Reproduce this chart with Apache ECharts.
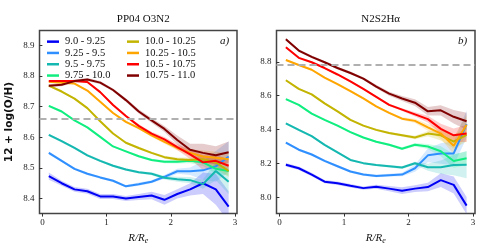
<!DOCTYPE html>
<html><head><meta charset="utf-8">
<script src="https://cdn.jsdelivr.net/npm/echarts@6/dist/echarts.min.js"></script>
<style>html,body{margin:0;padding:0;background:#fff}#c{width:500px;height:250px}</style>
</head><body><div id="c"></div>
<script>
// ---------- data ----------
const radius = [0.1,0.3,0.5,0.7,0.9,1.1,1.3,1.5,1.7,1.9,2.1,2.3,2.5,2.7,2.9];
const massBins = ['9.0 - 9.25','9.25 - 9.5','9.5 - 9.75','9.75 - 10.0','10.0 - 10.25','10.25 - 10.5','10.5 - 10.75','10.75 - 11.0'];
const panelTitles = ['PP04 O3N2','N2S2Hα'];
const panelTags = ['a)','b)'];
const xTicks = [0,1,2,3];
const yTicksO3N2 = [8.4,8.5,8.6,8.7,8.8,8.9];
const yTicksN2S2 = [8.0,8.2,8.4,8.6,8.8];
const refO3N2 = 8.66;
const refN2S2 = 8.775;

// PP04 O3N2 profiles
const o3n2_b1 = [8.473,8.450,8.430,8.424,8.407,8.407,8.400,8.405,8.410,8.396,8.415,8.430,8.450,8.430,8.374];
const o3n2_b2 = [8.549,8.523,8.497,8.481,8.469,8.458,8.440,8.447,8.455,8.471,8.489,8.489,8.492,8.505,8.537];
const o3n2_b3 = [8.608,8.587,8.565,8.541,8.523,8.507,8.495,8.486,8.481,8.468,8.463,8.460,8.447,8.490,8.455];
const o3n2_b4 = [8.702,8.684,8.655,8.632,8.601,8.570,8.554,8.538,8.526,8.520,8.520,8.523,8.518,8.497,8.490];
const o3n2_b5 = [8.768,8.749,8.726,8.695,8.652,8.612,8.582,8.565,8.549,8.535,8.528,8.526,8.528,8.518,8.490];
const o3n2_b6 = [8.781,8.778,8.775,8.752,8.716,8.679,8.650,8.630,8.606,8.585,8.565,8.549,8.537,8.533,8.528];
const o3n2_b7 = [8.783,8.783,8.783,8.780,8.747,8.705,8.669,8.637,8.612,8.593,8.568,8.544,8.518,8.523,8.507];
const o3n2_b8 = [8.768,8.771,8.783,8.788,8.778,8.754,8.721,8.684,8.655,8.627,8.591,8.559,8.549,8.541,8.551];
// PP04 O3N2 uncertainties (half width)
const o3n2_e1 = [0.012,0.008,0.008,0.008,0.008,0.008,0.008,0.010,0.012,0.016,0.015,0.020,0.035,0.050,0.050];
const o3n2_e2 = [0.005,0.004,0.004,0.004,0.004,0.004,0.004,0.005,0.005,0.006,0.008,0.012,0.030,0.050,0.050];
const o3n2_e3 = [0.004,0.004,0.004,0.004,0.004,0.004,0.004,0.004,0.005,0.006,0.008,0.010,0.015,0.030,0.040];
const o3n2_e4 = [0.004,0.004,0.003,0.003,0.003,0.003,0.003,0.004,0.004,0.005,0.006,0.008,0.012,0.015,0.015];
const o3n2_e5 = [0.004,0.004,0.003,0.003,0.003,0.003,0.003,0.004,0.004,0.005,0.006,0.008,0.012,0.020,0.020];
const o3n2_e6 = [0.004,0.004,0.003,0.003,0.003,0.003,0.004,0.004,0.005,0.006,0.008,0.012,0.020,0.020,0.020];
const o3n2_e7 = [0.004,0.004,0.003,0.003,0.003,0.004,0.004,0.005,0.006,0.008,0.010,0.015,0.025,0.020,0.020];
const o3n2_e8 = [0.005,0.005,0.005,0.005,0.005,0.005,0.006,0.007,0.008,0.010,0.015,0.020,0.030,0.030,0.035];

// N2S2Ha profiles
const n2s2_b1 = [8.194,8.173,8.136,8.094,8.085,8.070,8.056,8.064,8.053,8.041,8.053,8.062,8.103,8.075,7.953];
const n2s2_b2 = [8.324,8.282,8.254,8.216,8.185,8.154,8.136,8.128,8.132,8.136,8.173,8.249,8.260,8.260,8.433];
const n2s2_b3 = [8.437,8.399,8.362,8.311,8.267,8.222,8.203,8.192,8.185,8.177,8.202,8.179,8.179,8.192,8.194];
const n2s2_b4 = [8.580,8.546,8.495,8.458,8.424,8.386,8.354,8.329,8.311,8.288,8.311,8.301,8.273,8.216,8.232];
const n2s2_b5 = [8.691,8.640,8.608,8.555,8.508,8.458,8.424,8.399,8.380,8.367,8.354,8.377,8.367,8.330,8.370];
const n2s2_b6 = [8.810,8.781,8.753,8.706,8.668,8.627,8.584,8.537,8.499,8.465,8.452,8.414,8.377,8.305,8.429];
const n2s2_b7 = [8.885,8.823,8.797,8.763,8.725,8.684,8.640,8.593,8.546,8.518,8.490,8.462,8.405,8.367,8.377];
const n2s2_b8 = [8.932,8.866,8.829,8.797,8.763,8.734,8.701,8.654,8.612,8.584,8.559,8.508,8.514,8.476,8.450];
// N2S2Ha uncertainties (half width)
const n2s2_e1 = [0.010,0.010,0.010,0.010,0.010,0.010,0.010,0.012,0.015,0.020,0.020,0.025,0.040,0.050,0.050];
const n2s2_e2 = [0.008,0.007,0.007,0.007,0.007,0.007,0.007,0.008,0.008,0.010,0.020,0.040,0.060,0.070,0.080];
const n2s2_e3 = [0.006,0.006,0.006,0.006,0.006,0.006,0.006,0.006,0.007,0.008,0.010,0.020,0.040,0.060,0.080];
const n2s2_e4 = [0.006,0.006,0.006,0.006,0.006,0.006,0.006,0.006,0.007,0.008,0.010,0.015,0.030,0.040,0.040];
const n2s2_e5 = [0.006,0.006,0.006,0.006,0.006,0.006,0.006,0.006,0.007,0.008,0.010,0.015,0.030,0.040,0.040];
const n2s2_e6 = [0.006,0.006,0.006,0.006,0.006,0.006,0.006,0.006,0.007,0.008,0.012,0.020,0.030,0.050,0.060];
const n2s2_e7 = [0.006,0.006,0.006,0.006,0.006,0.006,0.006,0.006,0.007,0.008,0.012,0.020,0.030,0.040,0.050];
const n2s2_e8 = [0.008,0.008,0.008,0.008,0.008,0.008,0.008,0.010,0.012,0.015,0.020,0.025,0.030,0.040,0.050];

// ---------- styles ----------
const binColors = ['#0000f5','#2f8fff','#14b8b0','#10ee80','#c2b400','#ffa500','#ff0000','#800000'];
const serif = 'Liberation Serif';

const panels = [
  {vals:[o3n2_b1,o3n2_b2,o3n2_b3,o3n2_b4,o3n2_b5,o3n2_b6,o3n2_b7,o3n2_b8],
   errs:[o3n2_e1,o3n2_e2,o3n2_e3,o3n2_e4,o3n2_e5,o3n2_e6,o3n2_e7,o3n2_e8],
   ref:refO3N2, yTicks:yTicksO3N2, ymin:8.351, ymax:8.948},
  {vals:[n2s2_b1,n2s2_b2,n2s2_b3,n2s2_b4,n2s2_b5,n2s2_b6,n2s2_b7,n2s2_b8],
   errs:[n2s2_e1,n2s2_e2,n2s2_e3,n2s2_e4,n2s2_e5,n2s2_e6,n2s2_e7,n2s2_e8],
   ref:refN2S2, yTicks:yTicksN2S2, ymin:7.906, ymax:8.984}
];

const grids = [
  {left:39.5, top:30.5, width:197.5, height:191},
  {left:276.5, top:30.5, width:198.5, height:191}
];

function bandRender(color){
  return function(params, api){
    if (params.dataIndex !== 0) return null;
    const n = params.dataInsideLength !== undefined ? radius.length : radius.length;
    const up = [], lo = [];
    for (let i = 0; i < n; i++) {
      up.push(api.coord([api.value(0, i), api.value(2, i)]));
      lo.push(api.coord([api.value(0, i), api.value(1, i)]));
    }
    const pts = up.concat(lo.reverse());
    return {type:'polygon', shape:{points:pts}, style:{fill:color, opacity:0.2}, silent:true};
  };
}

const series = [];
panels.forEach((p, pi) => {
  p.vals.forEach((v, bi) => {
    const e = p.errs[bi];
    series.push({type:'custom', xAxisIndex:pi, yAxisIndex:pi, silent:true, z:1, clip:true,
      renderItem: bandRender(binColors[bi]),
      encode:{x:0, y:[1,2]},
      data: radius.map((r,i)=>[r, v[i]-e[i], v[i]+e[i]])});
  });
  series.push({type:'line', xAxisIndex:pi, yAxisIndex:pi, data:[], z:2,
    markLine:{silent:true, symbol:'none', label:{show:false},
      lineStyle:{color:'#b0b0b0', width:2, type:[7,4]},
      data:[{yAxis:p.ref}]}});
  p.vals.forEach((v, bi) => {
    series.push({type:'line', name:massBins[bi], xAxisIndex:pi, yAxisIndex:pi, symbol:'none', z:3,
      color:binColors[bi], lineStyle:{color:binColors[bi], width:2},
      data: radius.map((r,i)=>[r, v[i]])});
  });
});

const tickStyle = {show:true, inside:false, length:3, lineStyle:{color:'#333', width:1}};
const labelStyle = {fontFamily:serif, fontSize:9, color:'#222'};

const option = {
  animation:false,
  title: panelTitles.map((t,i)=>({text:t, left:grids[i].left+grids[i].width/2, top:9, textAlign:'center',
    textStyle:{fontFamily:serif, fontSize:11, fontWeight:'normal', color:'#111'}})),
  grid: grids.map(g=>Object.assign({show:true, borderColor:'#444', borderWidth:1.5, backgroundColor:'transparent'}, g)),
  xAxis: [0,1].map(i=>({type:'value', gridIndex:i, min:-0.045, max:3.03,
    axisLine:{show:false}, splitLine:{show:false},
    axisTick:Object.assign({customValues:xTicks}, tickStyle),
    axisLabel:Object.assign({customValues:xTicks, margin:5}, labelStyle),
    name:'{i|R/R}{s|e}', nameLocation:'middle', nameGap:14,
    nameTextStyle:{rich:{i:{fontFamily:serif, fontStyle:'italic', fontSize:11, color:'#111'},
      s:{fontFamily:serif, fontStyle:'italic', fontSize:8, color:'#111', verticalAlign:'bottom', padding:[6,0,0,0]}}}})),
  yAxis: panels.map((p,i)=>({type:'value', gridIndex:i, min:p.ymin, max:p.ymax,
    axisLine:{show:false}, splitLine:{show:false},
    axisTick:Object.assign({customValues:p.yTicks}, tickStyle),
    axisLabel:Object.assign({customValues:p.yTicks, margin:5, formatter:v=>v.toFixed(1)}, labelStyle),
    name: i===0 ? '12 + log(O/H)' : '', nameLocation:'middle', nameGap:25,
    nameTextStyle:{fontFamily:'DejaVu Sans', fontWeight:'bold', fontSize:10.5, color:'#111'}})),
  legend: [
    {data:massBins.slice(0,4), left:47, top:36},
    {data:massBins.slice(4,8), left:127, top:36}
  ].map(l=>Object.assign({orient:'vertical', icon:'rect', itemWidth:12, itemHeight:2.5, itemGap:0,
    padding:0, selectedMode:false,
    textStyle:{fontFamily:serif, fontSize:10.5, color:'#111', lineHeight:11.3, padding:[0,0,0,1]}}, l)),
  graphic: panelTags.map((t,i)=>({type:'text', left:grids[i].left+grids[i].width-17, top:36,
    style:{text:t, font:'italic 11px "Liberation Serif"', fill:'#111'}})),
  series: series
};
const chart = echarts.init(document.getElementById('c'), null, {renderer:'canvas'});
chart.setOption(option);
</script>
</body></html>
